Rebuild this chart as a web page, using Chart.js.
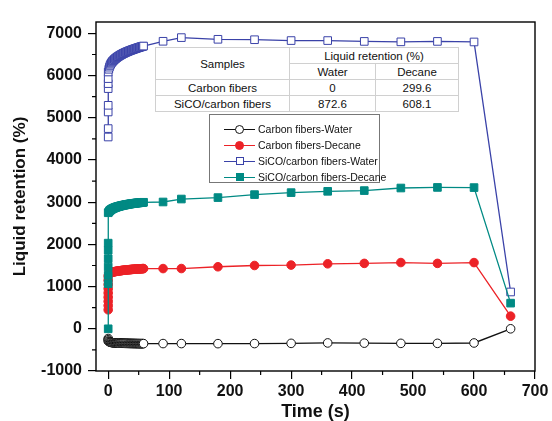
<!DOCTYPE html>
<html>
<head>
<meta charset="utf-8">
<script src="https://cdn.jsdelivr.net/npm/chart.js@4.4.1/dist/chart.umd.min.js"></script>
<style>
  body { margin: 0; background: #fff; }
  #wrap { position: relative; width: 552px; height: 421px; font-family: 'Liberation Sans', Arial, sans-serif; }
  #chart { position: absolute; left: 0; top: 0; }
  #info {
    position: absolute; left: 155px; top: 47px; width: 304px; height: 63px;
    border-collapse: collapse; background: #fff; border: 1.5px solid #8a8a8a;
    font-size: 11.5px; color: #111; text-align: center;
  }
  #info td { border: 1px solid #d0d0d0; padding: 0; height: 15px; line-height: 14px; }
  #legend {
    position: absolute; left: 209px; top: 114px; width: 171px; height: 69px;
    border: 1.3px solid #777; background: #fff; box-sizing: border-box;
    font-size: 10.5px; color: #111;
  }
  .item { position: absolute; left: 14px; height: 12px; }
  .item .ln { position: absolute; left: 0; top: 5.5px; width: 31px; height: 1.3px; }
  .item .mk { position: absolute; box-sizing: border-box; }
  .item span { position: absolute; left: 34px; top: 0; white-space: nowrap; line-height: 12px; }
</style>
</head>
<body>
<div id="wrap">
  <canvas id="chart" width="552" height="421"></canvas>
  <table id="info">
    <tr><td rowspan="2" style="width:133px">Samples</td><td colspan="2">Liquid retention (%)</td></tr>
    <tr><td style="width:85px">Water</td><td>Decane</td></tr>
    <tr><td>Carbon fibers</td><td>0</td><td>299.6</td></tr>
    <tr><td>SiCO/carbon fibers</td><td>872.6</td><td>608.1</td></tr>
  </table>
  <div id="legend"></div>
</div>
<script>
document.addEventListener("DOMContentLoaded", function () {
    const ticksX = [0, 100, 200, 300, 400, 500, 600, 700];
    const ticksY = [-1000, 0, 1000, 2000, 3000, 4000, 5000, 6000, 7000];

    const seriesNames = ['Carbon fibers-Water', 'Carbon fibers-Decane', 'SiCO/carbon fibers-Water', 'SiCO/carbon fibers-Decane'];

    // readings taken at t = 1..58 s (one per second)
    const earlyTime = [1, 2, 3, 4, 5, 6, 7, 8, 9, 10, 11, 12, 13, 14, 15, 16, 17, 18, 19, 20,
        21, 22, 23, 24, 25, 26, 27, 28, 29, 30, 31, 32, 33, 34, 35, 36, 37, 38, 39, 40,
        41, 42, 43, 44, 45, 46, 47, 48, 49, 50, 51, 52, 53, 54, 55, 56, 57, 58];
    // later readings
    const lateTime = [90, 120, 180, 240, 300, 360, 420, 480, 540, 600, 660];

    // Carbon fibers - Water
    const cfWaterStart = [-230, -260, -290];
    const cfWaterEarly = [-300, -310, -316, -320, -323, -326, -328, -330, -332, -333, -334, -335, -336, -337, -338, -338, -339, -340, -340, -341,
        -341, -342, -342, -343, -343, -344, -344, -344, -345, -345, -345, -346, -346, -346, -347, -347, -347, -347, -348, -348,
        -348, -348, -349, -349, -349, -349, -350, -350, -350, -350, -350, -351, -351, -351, -351, -351, -351, -351];
    const cfWaterLate = [-350, -350, -352, -350, -345, -335, -340, -345, -345, -336, 0];

    // Carbon fibers - Decane
    const cfDecaneStart = [450, 550, 650, 750, 850, 950, 1050, 1150, 1250];
    const cfDecaneEarly = [1300, 1312, 1320, 1327, 1332, 1337, 1341, 1345, 1349, 1352, 1355, 1358, 1361, 1364, 1366, 1369, 1371, 1373, 1375, 1377,
        1379, 1381, 1383, 1385, 1387, 1388, 1390, 1392, 1393, 1395, 1396, 1398, 1399, 1401, 1402, 1403, 1405, 1406, 1407, 1409,
        1410, 1411, 1412, 1413, 1414, 1415, 1416, 1417, 1418, 1419, 1420, 1421, 1422, 1423, 1424, 1425, 1426, 1427];
    const cfDecaneLate = [1427, 1428, 1470, 1500, 1510, 1540, 1550, 1570, 1550, 1569, 299.6];

    // SiCO/carbon fibers - Water
    const scWaterStart = [4545, 4744, 5138, 5296, 5692, 5810, 5929, 6085];
    const scWaterEarly = [6150, 6200, 6240, 6270, 6295, 6315, 6335, 6350, 6365, 6380, 6393, 6405, 6417, 6428, 6439, 6449, 6459, 6468, 6477, 6486,
        6494, 6502, 6510, 6518, 6525, 6532, 6539, 6546, 6553, 6559, 6565, 6571, 6577, 6583, 6589, 6594, 6600, 6605, 6611, 6616,
        6621, 6626, 6631, 6636, 6641, 6646, 6651, 6656, 6661, 6665, 6670, 6675, 6679, 6684, 6688, 6692, 6696, 6700];
    const scWaterLate = [6813, 6900, 6860, 6850, 6830, 6830, 6810, 6800, 6810, 6797, 872.6];

    // SiCO/carbon fibers - Decane
    const scDecaneStart = [0, 1070, 1270, 1465, 1660, 1860, 2030, 2750];
    const scDecaneEarly = [2770, 2790, 2805, 2817, 2827, 2836, 2844, 2851, 2858, 2864, 2870, 2876, 2881, 2886, 2891, 2895, 2899, 2903, 2907, 2911,
        2915, 2918, 2922, 2925, 2928, 2931, 2934, 2937, 2940, 2943, 2946, 2948, 2951, 2953, 2956, 2958, 2961, 2963, 2965, 2967,
        2969, 2971, 2973, 2975, 2977, 2979, 2981, 2982, 2984, 2986, 2987, 2989, 2990, 2992, 2993, 2995, 2996, 2998];
    const scDecaneLate = [3005, 3075, 3109, 3180, 3227, 3258, 3275, 3336, 3350, 3346, 608.1];

    const colors = ['#111111', '#ec2227', '#3a42a8', '#008a84'];
    const fills = ['#ffffff', '#ec2227', '#ffffff', '#008a84'];
    const shapes = ['circle', 'circle', 'rect', 'rect'];
    const radii = [4.3, 4.3, 5.4, 5.4];

    const starts = [cfWaterStart, cfDecaneStart, scWaterStart, scDecaneStart];
    const earlies = [cfWaterEarly, cfDecaneEarly, scWaterEarly, scDecaneEarly];
    const lates = [cfWaterLate, cfDecaneLate, scWaterLate, scDecaneLate];

    function points(i) {
        const pts = [];
        starts[i].forEach(function (v) { pts.push({ x: 0, y: v }); });
        earlies[i].forEach(function (v, k) { pts.push({ x: earlyTime[k], y: v }); });
        lates[i].forEach(function (v, k) { pts.push({ x: lateTime[k], y: v }); });
        return pts;
    }

    const datasets = seriesNames.map(function (name, i) {
        return {
            label: name,
            data: points(i),
            borderColor: colors[i],
            backgroundColor: fills[i],
            pointBackgroundColor: fills[i],
            pointBorderColor: colors[i],
            pointStyle: shapes[i],
            pointRadius: radii[i],
            pointBorderWidth: 1,
            borderWidth: 1.3,
            tension: 0,
            order: 4 - i
        };
    });

    // frame round the plot + minor ticks
    const framePlugin = {
        id: 'frame',
        afterDraw: function (chart) {
            const ctx = chart.ctx;
            const a = chart.chartArea;
            const sx = chart.scales.x, sy = chart.scales.y;
            ctx.save();
            ctx.strokeStyle = '#000';
            ctx.lineWidth = 1.4;
            ctx.strokeRect(a.left, a.top, a.right - a.left, a.bottom - a.top);
            ctx.lineWidth = 1.2;
            ctx.beginPath();
            for (let i = 0; i < ticksX.length - 1; i++) {
                const px = sx.getPixelForValue((ticksX[i] + ticksX[i + 1]) / 2);
                ctx.moveTo(px, a.bottom);
                ctx.lineTo(px, a.bottom + 4);
            }
            for (let i = 0; i < ticksY.length - 1; i++) {
                const py = sy.getPixelForValue((ticksY[i] + ticksY[i + 1]) / 2);
                ctx.moveTo(a.left, py);
                ctx.lineTo(a.left - 4, py);
            }
            ctx.stroke();
            ctx.restore();
        }
    };

    const tickFont = { family: "'Liberation Sans', Arial, sans-serif", size: 16, weight: 'bold' };

    new Chart(document.getElementById('chart').getContext('2d'), {
        type: 'line',
        data: { datasets: datasets },
        options: {
            responsive: false,
            animation: false,
            devicePixelRatio: 1,
            layout: { padding: { left: 0, right: 17, top: 22, bottom: 0 } },
            plugins: { legend: { display: false }, tooltip: { enabled: false } },
            scales: {
                x: {
                    type: 'linear',
                    min: -20,
                    max: 700,
                    afterBuildTicks: function (scale) { scale.ticks = ticksX.map(function (v) { return { value: v }; }); },
                    afterFit: function (scale) { scale.height = 50; },
                    grid: { drawOnChartArea: false, drawTicks: true, tickLength: 8, color: '#000', lineWidth: 1.2 },
                    border: { display: false },
                    ticks: { color: '#111', font: tickFont, padding: 3, maxRotation: 0, callback: function (v) { return String(v); } },
                    title: {
                        display: true, text: 'Time (s)', color: '#111',
                        font: { family: "'Liberation Sans', Arial, sans-serif", size: 18, weight: 'bold', lineHeight: 1 },
                        padding: { top: 0, bottom: 0 }
                    }
                },
                y: {
                    type: 'linear',
                    min: -1000,
                    max: 7270,
                    afterBuildTicks: function (scale) { scale.ticks = ticksY.map(function (v) { return { value: v }; }); },
                    afterFit: function (scale) { scale.width = 96; },
                    grid: { drawOnChartArea: false, drawTicks: true, tickLength: 8, color: '#000', lineWidth: 1.2 },
                    border: { display: false },
                    ticks: { color: '#111', font: tickFont, padding: 6, callback: function (v) { return String(v); } },
                    title: {
                        display: true, text: 'Liquid retention (%)', color: '#111',
                        font: { family: "'Liberation Sans', Arial, sans-serif", size: 17, weight: 'bold' },
                        padding: { top: 10, bottom: 0 }
                    }
                }
            }
        },
        plugins: [framePlugin]
    });

    // legend box drawn as html, styles taken from the same series settings
    const legend = document.getElementById('legend');
    const rowTops = [8, 24, 40, 56];
    seriesNames.forEach(function (name, i) {
        const item = document.createElement('div');
        item.className = 'item';
        item.style.top = rowTops[i] + 'px';
        const ln = document.createElement('div');
        ln.className = 'ln';
        ln.style.background = colors[i];
        const mk = document.createElement('div');
        mk.className = 'mk';
        const s = shapes[i] === 'circle' ? 9 : 8;
        mk.style.width = s + 'px';
        mk.style.height = s + 'px';
        mk.style.left = (15.5 - s / 2) + 'px';
        mk.style.top = (6 - s / 2) + 'px';
        mk.style.background = fills[i];
        mk.style.border = '1px solid ' + colors[i];
        if (shapes[i] === 'circle') mk.style.borderRadius = '50%';
        const label = document.createElement('span');
        label.textContent = name;
        item.appendChild(ln);
        item.appendChild(mk);
        item.appendChild(label);
        legend.appendChild(item);
    });
});
</script>
</body>
</html>
